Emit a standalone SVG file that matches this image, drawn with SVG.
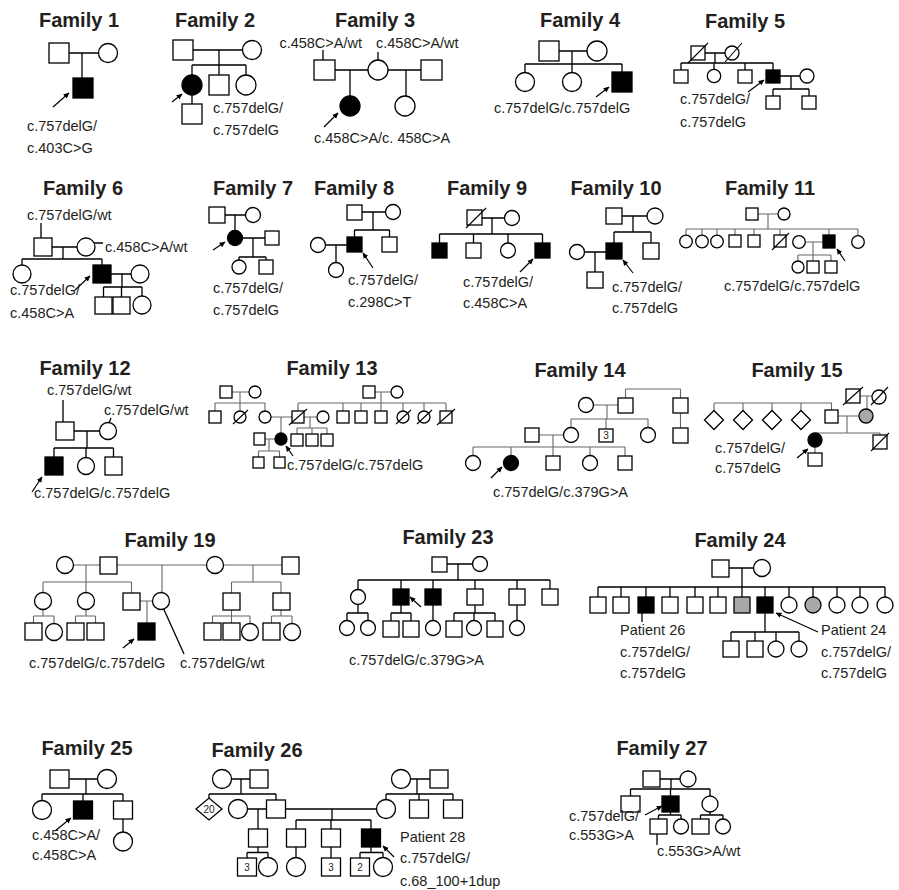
<svg xmlns="http://www.w3.org/2000/svg" width="899" height="890" viewBox="0 0 899 890">
<defs>
<style>
.o{fill:#fff;stroke:#000;stroke-width:1.3}
.k{fill:#000;stroke:#000;stroke-width:1.3}
.gr{fill:#a8a8a8;stroke:#000;stroke-width:1.3}
.c{fill:none;stroke:#000;stroke-width:1.3}
.cg{fill:none;stroke:#666;stroke-width:1.1}
.d{stroke:#000;stroke-width:1.1}
.a{stroke:#000;stroke-width:1.2}
.tt{font-family:"Liberation Sans",Arial,sans-serif;font-weight:bold;font-size:20px;fill:#231f20;text-anchor:middle}
.lb{font-family:"Liberation Sans",Arial,sans-serif;font-size:14.5px;fill:#231f20}
.sm{font-family:"Liberation Sans",Arial,sans-serif;font-size:10px;fill:#231f20;text-anchor:middle}
</style>
<marker id="ah" viewBox="0 0 10 10" refX="9" refY="5" markerWidth="6" markerHeight="6" markerUnits="userSpaceOnUse" orient="auto"><path d="M0,0.5 L10,5 L0,9.5 z" fill="#000"/></marker>
</defs>
<rect width="899" height="890" fill="#fff"/>

<g id="connectors">
<path class="c" d="M68,53H99M82,53V78"/>
<path class="c" d="M193,50H242M219,50V65M192,65H246M192,65V75M219,65V75M246,65V75M192,95V104"/>
<path class="c" d="M323,50V68M378,52V60M335,70H368M350,70V96M388,70H421M406,70V96"/>
<path class="c" d="M559,51H587M572,51V64M525,64H622M525,64V72.5M572,64V72.5M622,64V72"/>
<path class="c" d="M705,53H725M715,53V63M681,63H773M681,63V70M714,63V69.5M745,63V70M773,63V70M780,76H800M791,76V89M773,89H809M773,89V96M809,89V96"/>
<path class="c" d="M41,223V238M52,247H77M93,243H103M63,247V259M22,259H102M22,259V265M102,259V265M111,274H131M122,274V287M103.5,287H142M103.5,287V297M121.5,287V297M142,287V296"/>
<path class="c" d="M225,215H245.5M235,215V230.5M242.5,238H265M253,238V257M239,257H266M239,257V260M266,257V260"/>
<path class="c" d="M362,212H385.5M373,212V230M354.5,230H389.5M354.5,230V237M389.5,230V237M325.5,245H347M336,245V262.5"/>
<path class="c" d="M482,218H504.5M492,218V234M439.5,234H542.5M439.5,234V243M473.5,234V243M508,234V243M542.5,234V243"/>
<path class="c" d="M622,216H647M633,216V232M614,232H651M614,232V243M651,232V243M584.5,252H606M595,252V272"/>
<path class="cg" d="M758,214H778M768,214V229M686,229H858M686,229V235M702,229V235M717,229V235M735,229V235M754,229V235M780,229V235M829,229V235M858,229V235M805.5,242H823M813,242V255M798,255H831M798,255V261M813,255V261M831,255V261"/>
<path class="c" d="M63,400V422M111,418L109,423M74,431H99.5M87,431V448M54,448H113.5M54,448V457M86,448V457.5M113.5,448V457"/>
<path class="cg" d="M232,392H249M240,392V403M215,403H265M215,403V411M240,403V411M265,403V411M375,392H391M381,392V403M298,403H446M298,403V411M343,403V411M361,403V411M381,403V411M403,403V411M424,403V411M446,403V411M271,417H292M304,417H317M281,417V433M310,417V428M297,428H327M297,428V434M312,428V434M327,428V434M265,439H275M269,439V451M258.5,451H279.5M258.5,451V457M279.5,451V457"/>
<path class="cg" d="M625.5,389H680.5M625.5,389V398M680.5,389V398M593.5,405H618M607,405V419M571,419H648M571,419V427.5M606,419V429M648,419V427.5M680.5,413V428M539,435H563.5M553,435V447M473,447H625M473,447V455.5M511,447V455.5M553,447V456M590,447V455.5M625,447V456"/>
<path class="cg" d="M860,396H872M867,396V409M714,403H832M714,403V410.5M743,403V410.5M772,403V410.5M801,403V410.5M831.5,403V410M838,416H859M847,416V433M815,433H880M880,433V435M815,447V453"/>
<path class="cg" d="M73.5,565H100M86,565V582M117,565H206.5M162,565V592.5M223.5,565H282M253,565V582M43,582H131.5M43,582V592.5M86,582V592.5M131.5,582V593M231.5,582H281M231.5,582V593M281,582V593M140,601H152.5M147,601V623M43,609.5V616M33.5,616H54M33.5,616V623M54,616V623.5M86,609.5V616M75.5,616H95.5M75.5,616V623M95.5,616V623M231.5,610V616M212.5,616H250M212.5,616V623M231.5,616V623M250,616V623.5M281,610V616M271.5,616H292M271.5,616V623M292,616V623.5"/>
<path class="c" d="M161,603L184,654"/>
<path class="c" d="M447,564H472.5M458,564V580M358,580H550M358,580V589.5M401,580V589M433,580V589M475,580V589M517,580V589M550,580V589M358,604.5V613M347,613H368M347,613V620.5M368,613V620.5M401,605V613M391,613H411M391,613V621M411,613V621M433,605V620.5M475,605V613M454,613H495M454,613V621M474,613V620.5M495,613V621M517,605V620.5"/>
<path class="c" d="M729,568H753.5M742,568V587M598,587H885M598,587V597M621,587V597M646,587V597M670,587V597M695,587V597M718,587V597M742,587V597M765,587V597M789,587V597M813,587V597M837,587V597M860,587V597M885,587V597M642,613V622M765,613V632M731,632H799M731,632V641M755,632V641M776,632V641M799,632V641"/>
<path class="c" d="M69,779H97.5M86,779V794M42,794H123M42,794V800.5M83,794V801M123,794V801M123,819V832"/>
<path class="c" d="M231.5,779H250M241,779V794M209,794H276M209,794V798M276,794V800M247.5,809H266.5M258,809V829M410.5,779H430M417,779V794M386,794H453M386,794V799.5M419,794V800M453,794V800M332,809V820M296,820H371M296,820V829M331,820V829M371,820V829M258,847V852.5M247,852.5H268M247,852.5V858M268,852.5V857.5M296,847V857.5M331,847V858M371,847V852.5M360,852.5H383M360,852.5V858M383,852.5V857.5"/>
<path class="c" d="M285.5,809H376.5" stroke-width="2"/>
<path class="c" d="M660,779H680M671,779V789M630.5,789H710M630.5,789V796M670.5,789V796M710,789V796M670.5,812V815M658.5,815H681M658.5,815V819M681,815V819M710,812V815M700.5,815H723M700.5,815V819M723,815V819M657,823V845"/>
<line class="a" x1="53" y1="107" x2="69" y2="93" marker-end="url(#ah)"/>
<line class="a" x1="172" y1="102" x2="182" y2="94" marker-end="url(#ah)"/>
<line class="a" x1="324" y1="127" x2="338" y2="113" marker-end="url(#ah)"/>
<line class="a" x1="596" y1="97" x2="609" y2="87" marker-end="url(#ah)"/>
<line class="a" x1="748" y1="92" x2="764" y2="80" marker-end="url(#ah)"/>
<line class="a" x1="75" y1="290" x2="90" y2="276" marker-end="url(#ah)"/>
<line class="a" x1="213" y1="250" x2="225" y2="242" marker-end="url(#ah)"/>
<line class="a" x1="373" y1="268" x2="363" y2="253" marker-end="url(#ah)"/>
<line class="a" x1="520" y1="272" x2="533" y2="259" marker-end="url(#ah)"/>
<line class="a" x1="633" y1="273" x2="623" y2="260" marker-end="url(#ah)"/>
<line class="a" x1="845" y1="261" x2="837" y2="249" marker-end="url(#ah)" stroke="#555"/>
<line class="a" x1="32" y1="492" x2="42" y2="477" marker-end="url(#ah)"/>
<line class="a" x1="293" y1="456" x2="286" y2="446" marker-end="url(#ah)"/>
<line class="a" x1="491" y1="478" x2="502" y2="467" marker-end="url(#ah)"/>
<line class="a" x1="797" y1="458" x2="808" y2="449" marker-end="url(#ah)"/>
<line class="a" x1="123" y1="648" x2="134" y2="639" marker-end="url(#ah)"/>
<line class="a" x1="421" y1="607" x2="410" y2="597" marker-end="url(#ah)"/>
<line class="a" x1="818" y1="632" x2="776" y2="613" marker-end="url(#ah)"/>
<line class="a" x1="55" y1="831" x2="71" y2="818" marker-end="url(#ah)"/>
<line class="a" x1="394" y1="857" x2="383" y2="846" marker-end="url(#ah)"/>
<line class="a" x1="645" y1="815" x2="662" y2="806" marker-end="url(#ah)"/>
</g>

<g id="family1">
<text class="tt" x="79" y="27">Family 1</text>
<rect id="f1-father" class="o" x="49" y="43" width="20" height="20"/>
<circle id="f1-mother" class="o" cx="108" cy="53" r="9.5"/>
<rect id="f1-proband" class="k" x="73" y="78" width="20" height="20"/>
<text class="lb" x="27" y="131">c.757delG/</text>
<text class="lb" x="27" y="153">c.403C&gt;G</text>
</g>

<g id="family2">
<text class="tt" x="215" y="27">Family 2</text>
<rect id="f2-father" class="o" x="173" y="40" width="20" height="20"/>
<circle id="f2-mother" class="o" cx="252" cy="50" r="9.5"/>
<circle id="f2-proband" class="k" cx="192" cy="85" r="10"/>
<rect id="f2-brother" class="o" x="209" y="75" width="20" height="20"/>
<circle id="f2-sister" class="o" cx="246" cy="85" r="10"/>
<rect id="f2-son" class="o" x="182" y="104" width="20" height="20"/>
<text class="lb" x="213" y="113">c.757delG/</text>
<text class="lb" x="213" y="135">c.757delG</text>
</g>

<g id="family3">
<text class="tt" x="375" y="27">Family 3</text>
<text class="lb" x="362" y="48" text-anchor="end" font-size="14">c.458C&gt;A/wt</text>
<text class="lb" x="376" y="48" font-size="14">c.458C&gt;A/wt</text>
<rect id="f3-father" class="o" x="314" y="60" width="21" height="20"/>
<circle id="f3-mother" class="o" cx="378" cy="70" r="10"/>
<rect id="f3-husband2" class="o" x="421" y="60" width="21" height="20"/>
<circle id="f3-proband" class="k" cx="350" cy="106" r="10"/>
<circle id="f3-halfsister" class="o" cx="405" cy="106" r="10"/>
<text class="lb" x="314" y="143">c.458C&gt;A/c. 458C&gt;A</text>
</g>

<g id="family4">
<text class="tt" x="580" y="27">Family 4</text>
<rect id="f4-father" class="o" x="539" y="41" width="20" height="20"/>
<circle id="f4-mother" class="o" cx="597" cy="51" r="10"/>
<circle id="f4-d1" class="o" cx="525" cy="82" r="9.5"/>
<circle id="f4-d2" class="o" cx="572" cy="82" r="9.5"/>
<rect id="f4-proband" class="k" x="612" y="72" width="20" height="20"/>
<text class="lb" x="494" y="113">c.757delG/c.757delG</text>
</g>

<g id="family5">
<text class="tt" x="745" y="28">Family 5</text>
<rect id="f5-father" class="o" x="691" y="46" width="14" height="14"/>
<line class="d" x1="688" y1="63" x2="708" y2="43"/>
<circle id="f5-mother" class="o" cx="732" cy="53" r="7"/>
<line class="d" x1="725" y1="62" x2="742" y2="43"/>
<rect id="f5-c1" class="o" x="674" y="70" width="14" height="13"/>
<circle id="f5-c2" class="o" cx="714" cy="76" r="6.7"/>
<rect id="f5-c3" class="o" x="738" y="70" width="14" height="13"/>
<rect id="f5-proband" class="k" x="766" y="70" width="14" height="13"/>
<circle id="f5-wife" class="o" cx="807" cy="76" r="7"/>
<rect id="f5-g1" class="o" x="766" y="96" width="14" height="13"/>
<rect id="f5-g2" class="o" x="802" y="96" width="14" height="13"/>
<text class="lb" x="680" y="104">c.757delG/</text>
<text class="lb" x="680" y="127">c.757delG</text>
</g>

<g id="family6">
<text class="tt" x="83" y="195">Family 6</text>
<text class="lb" x="27" y="220">c.757delG/wt</text>
<text class="lb" x="105" y="252">c.458C&gt;A/wt</text>
<rect id="f6-father" class="o" x="34" y="238" width="18" height="18"/>
<circle id="f6-mother" class="o" cx="86" cy="247" r="9"/>
<circle id="f6-sister" class="o" cx="22" cy="274" r="9"/>
<rect id="f6-proband" class="k" x="93" y="265" width="18" height="18"/>
<circle id="f6-wife" class="o" cx="140" cy="274" r="9"/>
<rect id="f6-g1" class="o" x="95" y="297" width="17" height="17"/>
<rect id="f6-g2" class="o" x="113" y="297" width="17" height="17"/>
<circle id="f6-g3" class="o" cx="142" cy="305" r="9"/>
<text class="lb" x="10" y="295">c.757delG/</text>
<text class="lb" x="10" y="318">c.458C&gt;A</text>
</g>

<g id="family7">
<text class="tt" x="253" y="195">Family 7</text>
<rect id="f7-father" class="o" x="209" y="207" width="16" height="16"/>
<circle id="f7-mother" class="o" cx="253" cy="215" r="7.5"/>
<circle id="f7-proband" class="k" cx="235" cy="238" r="7.5"/>
<rect id="f7-husband" class="o" x="265" y="231" width="14" height="14"/>
<circle id="f7-g1" class="o" cx="239" cy="267" r="7"/>
<rect id="f7-g2" class="o" x="259" y="260" width="14" height="14"/>
<text class="lb" x="213" y="293">c.757delG/</text>
<text class="lb" x="213" y="315">c.757delG</text>
</g>

<g id="family8">
<text class="tt" x="354" y="195">Family 8</text>
<rect id="f8-father" class="o" x="347" y="205" width="15" height="15"/>
<circle id="f8-mother" class="o" cx="393" cy="212" r="7.5"/>
<rect id="f8-proband" class="k" x="347" y="237" width="15" height="15"/>
<rect id="f8-brother" class="o" x="382" y="237" width="15" height="15"/>
<circle id="f8-wife" class="o" cx="318" cy="245" r="7.5"/>
<circle id="f8-g1" class="o" cx="336" cy="270" r="7.5"/>
<text class="lb" x="348" y="285">c.757delG/</text>
<text class="lb" x="348" y="307">c.298C&gt;T</text>
</g>

<g id="family9">
<text class="tt" x="487" y="195">Family 9</text>
<rect id="f9-father" class="o" x="467" y="210" width="15" height="15"/>
<line class="d" x1="466" y1="228" x2="486" y2="208"/>
<circle id="f9-mother" class="o" cx="512" cy="218" r="7.5"/>
<rect id="f9-c1" class="k" x="432" y="243" width="15" height="15"/>
<rect id="f9-c2" class="o" x="466" y="243" width="15" height="15"/>
<circle id="f9-c3" class="o" cx="508" cy="250.5" r="7.5"/>
<rect id="f9-proband" class="k" x="535" y="243" width="15" height="15"/>
<text class="lb" x="463" y="287">c.757delG/</text>
<text class="lb" x="463" y="308">c.458C&gt;A</text>
</g>

<g id="family10">
<text class="tt" x="616" y="195">Family 10</text>
<rect id="f10-father" class="o" x="606" y="208" width="16" height="16"/>
<circle id="f10-mother" class="o" cx="655" cy="216" r="8"/>
<rect id="f10-proband" class="k" x="606" y="243" width="16" height="16"/>
<rect id="f10-brother" class="o" x="643" y="243" width="16" height="16"/>
<circle id="f10-wife" class="o" cx="577" cy="252" r="7.5"/>
<rect id="f10-son" class="o" x="587" y="272" width="16" height="16"/>
<text class="lb" x="612" y="292">c.757delG/</text>
<text class="lb" x="612" y="313">c.757delG</text>
</g>

<g id="family11">
<text class="tt" x="770" y="195">Family 11</text>
<rect id="f11-father" class="o" x="746" y="208" width="12" height="12"/>
<circle id="f11-mother" class="o" cx="784" cy="214" r="6"/>
<circle id="f11-c1" class="o" cx="686" cy="241.5" r="6.3"/>
<circle id="f11-c2" class="o" cx="702" cy="241.5" r="6.3"/>
<circle id="f11-c3" class="o" cx="717" cy="241.5" r="6.3"/>
<rect id="f11-c4" class="o" x="729" y="235" width="12" height="12"/>
<rect id="f11-c5" class="o" x="748" y="235" width="12" height="12"/>
<rect id="f11-c6" class="o" x="774" y="235" width="12" height="12"/>
<line class="d" x1="772" y1="250" x2="789" y2="233"/>
<circle id="f11-wife" class="o" cx="799" cy="242" r="6.3"/>
<rect id="f11-proband" class="k" x="823" y="235" width="12" height="13"/>
<circle id="f11-c8" class="o" cx="858" cy="242" r="6.3"/>
<circle id="f11-g1" class="o" cx="798" cy="267" r="6"/>
<rect id="f11-g2" class="o" x="807" y="261" width="12" height="12"/>
<rect id="f11-g3" class="o" x="825" y="261" width="12" height="12"/>
<text class="lb" x="724" y="291">c.757delG/c.757delG</text>
</g>

<g id="family12">
<text class="tt" x="85" y="375">Family 12</text>
<text class="lb" x="47" y="395">c.757delG/wt</text>
<text class="lb" x="104" y="415">c.757delG/wt</text>
<rect id="f12-father" class="o" x="56" y="422" width="18" height="18"/>
<circle id="f12-mother" class="o" cx="108" cy="431" r="8.5"/>
<rect id="f12-proband" class="k" x="45" y="457" width="18" height="18"/>
<circle id="f12-sister" class="o" cx="86" cy="466" r="8.5"/>
<rect id="f12-brother" class="o" x="105" y="457" width="17" height="18"/>
<text class="lb" x="34" y="498">c.757delG/c.757delG</text>
</g>

<g id="family13">
<text class="tt" x="332" y="375">Family 13</text>
<rect id="f13-gf1" class="o" x="220" y="386" width="12" height="12"/>
<circle id="f13-gm1" class="o" cx="255" cy="392" r="6"/>
<rect id="f13-gf2" class="o" x="363" y="386" width="12" height="12"/>
<circle id="f13-gm2" class="o" cx="397" cy="392" r="6"/>
<rect id="f13-a1" class="o" x="209" y="411" width="12" height="12"/>
<circle id="f13-a2" class="o" cx="240" cy="417" r="6"/>
<line class="d" x1="233" y1="424" x2="248" y2="410"/>
<circle id="f13-mother" class="o" cx="265" cy="417" r="6"/>
<rect id="f13-father" class="o" x="292" y="411" width="12" height="12"/>
<line class="d" x1="289" y1="425" x2="307" y2="409"/>
<circle id="f13-wife2" class="o" cx="323" cy="417" r="6"/>
<rect id="f13-u1" class="o" x="337" y="411" width="12" height="12"/>
<rect id="f13-u2" class="o" x="355" y="411" width="12" height="12"/>
<rect id="f13-u3" class="o" x="375" y="411" width="12" height="12"/>
<circle id="f13-u4" class="o" cx="403" cy="417" r="6"/>
<line class="d" x1="396" y1="424" x2="411" y2="410"/>
<circle id="f13-u5" class="o" cx="424" cy="417" r="6"/>
<line class="d" x1="417" y1="424" x2="432" y2="410"/>
<rect id="f13-u6" class="o" x="440" y="411" width="12" height="12"/>
<line class="d" x1="437" y1="425" x2="455" y2="409"/>
<circle id="f13-proband" class="k" cx="281" cy="439" r="6"/>
<rect id="f13-husband" class="o" x="254" y="433" width="11" height="12"/>
<rect id="f13-h1" class="o" x="291" y="434" width="12" height="12"/>
<rect id="f13-h2" class="o" x="306" y="434" width="12" height="12"/>
<rect id="f13-h3" class="o" x="321" y="434" width="12" height="12"/>
<rect id="f13-s1" class="o" x="253" y="457" width="11" height="11"/>
<rect id="f13-s2" class="o" x="274" y="457" width="11" height="11"/>
<text class="lb" x="287" y="470">c.757delG/c.757delG</text>
</g>

<g id="family14">
<text class="tt" x="580" y="377">Family 14</text>
<circle id="f14-gm" class="o" cx="586" cy="405" r="7.5"/>
<rect id="f14-gf" class="o" x="618" y="398" width="15" height="15"/>
<rect id="f14-ggu" class="o" x="673" y="398" width="15" height="15"/>
<rect id="f14-ggu2" class="o" x="673" y="428" width="15" height="15"/>
<rect id="f14-father" class="o" x="525" y="428" width="14" height="14"/>
<circle id="f14-mother" class="o" cx="571" cy="435" r="7.5"/>
<rect id="f14-u3" class="o" x="599" y="429" width="14" height="13"/>
<text class="sm" x="606" y="439">3</text>
<circle id="f14-aunt" class="o" cx="648" cy="435" r="7.5"/>
<circle id="f14-c1" class="o" cx="473" cy="463" r="7.5"/>
<circle id="f14-proband" class="k" cx="511" cy="463" r="7.5"/>
<rect id="f14-c3" class="o" x="546" y="456" width="14" height="14"/>
<circle id="f14-c4" class="o" cx="590" cy="463" r="7.5"/>
<rect id="f14-c5" class="o" x="618" y="456" width="14" height="14"/>
<text class="lb" x="493" y="497" font-size="16">c.757delG/c.379G&gt;A</text>
</g>

<g id="family15">
<text class="tt" x="797" y="377">Family 15</text>
<rect id="f15-gf" class="o" x="846" y="389" width="14" height="14"/>
<line class="d" x1="843" y1="405" x2="863" y2="387"/>
<circle id="f15-gm" class="o" cx="879" cy="397" r="7"/>
<line class="d" x1="871" y1="405" x2="888" y2="387"/>
<polygon id="f15-s1" class="o" points="704.5,420 714,410.5 723.5,420 714,429.5"/>
<polygon id="f15-s2" class="o" points="733.5,420 743,410.5 752.5,420 743,429.5"/>
<polygon id="f15-s3" class="o" points="762.5,420 772,410.5 781.5,420 772,429.5"/>
<polygon id="f15-s4" class="o" points="791.5,420 801,410.5 810.5,420 801,429.5"/>
<rect id="f15-father" class="o" x="825" y="410" width="13" height="13"/>
<circle id="f15-mother" class="gr" cx="866" cy="416" r="7"/>
<circle id="f15-proband" class="k" cx="815" cy="440" r="7"/>
<rect id="f15-brother" class="o" x="873" y="435" width="14" height="14"/>
<line class="d" x1="871" y1="451" x2="889" y2="433"/>
<rect id="f15-son" class="o" x="808" y="453" width="14" height="13"/>
<text class="lb" x="715" y="453">c.757delG/</text>
<text class="lb" x="715" y="473">c.757delG</text>
</g>

<g id="family19">
<text class="tt" x="170" y="547">Family 19</text>
<circle id="f19-gm1" class="o" cx="65" cy="565" r="8.5"/>
<rect id="f19-gf1" class="o" x="100" y="557" width="17" height="17"/>
<circle id="f19-gm2" class="o" cx="215" cy="565" r="8.5"/>
<rect id="f19-gf2" class="o" x="282" y="557" width="17" height="17"/>
<circle id="f19-a1" class="o" cx="43" cy="601" r="8.5"/>
<circle id="f19-a2" class="o" cx="86" cy="601" r="8.5"/>
<rect id="f19-father" class="o" x="123" y="593" width="17" height="17"/>
<circle id="f19-mother" class="o" cx="161" cy="601" r="8.5"/>
<rect id="f19-b1" class="o" x="223" y="593" width="17" height="17"/>
<rect id="f19-b2" class="o" x="273" y="593" width="17" height="17"/>
<rect id="f19-proband" class="k" x="138" y="623" width="17" height="17"/>
<rect id="f19-k1" class="o" x="25" y="623" width="17" height="17"/>
<circle id="f19-k2" class="o" cx="54" cy="632" r="8.5"/>
<rect id="f19-k3" class="o" x="67" y="623" width="17" height="17"/>
<rect id="f19-k4" class="o" x="87" y="623" width="17" height="17"/>
<rect id="f19-k5" class="o" x="204" y="623" width="17" height="17"/>
<rect id="f19-k6" class="o" x="223" y="623" width="17" height="17"/>
<circle id="f19-k7" class="o" cx="250" cy="632" r="8.5"/>
<rect id="f19-k8" class="o" x="263" y="623" width="17" height="17"/>
<circle id="f19-k9" class="o" cx="292" cy="632" r="8.5"/>
<text class="lb" x="29" y="668" font-size="14">c.757delG/c.757delG</text>
<text class="lb" x="180" y="668">c.757delG/wt</text>
</g>

<g id="family23">
<text class="tt" x="448" y="544">Family 23</text>
<rect id="f23-father" class="o" x="432" y="557" width="15" height="15"/>
<circle id="f23-mother" class="o" cx="480" cy="564" r="7.5"/>
<circle id="f23-c1" class="o" cx="358" cy="597" r="7.5"/>
<rect id="f23-proband" class="k" x="393" y="589" width="16" height="16"/>
<rect id="f23-c3" class="k" x="425" y="589" width="16" height="16"/>
<rect id="f23-c4" class="o" x="467" y="589" width="16" height="16"/>
<rect id="f23-c5" class="o" x="509" y="589" width="16" height="16"/>
<rect id="f23-c6" class="o" x="542" y="589" width="16" height="16"/>
<circle id="f23-g1" class="o" cx="347" cy="628" r="7.5"/>
<circle id="f23-g2" class="o" cx="368" cy="628" r="7.5"/>
<rect id="f23-g3" class="o" x="383" y="621" width="16" height="16"/>
<rect id="f23-g4" class="o" x="403" y="621" width="16" height="16"/>
<circle id="f23-g5" class="o" cx="433" cy="628" r="7.5"/>
<rect id="f23-g6" class="o" x="446" y="621" width="16" height="16"/>
<circle id="f23-g7" class="o" cx="474" cy="628" r="7.5"/>
<rect id="f23-g8" class="o" x="487" y="621" width="16" height="16"/>
<circle id="f23-g9" class="o" cx="517" cy="628" r="7.5"/>
<text class="lb" x="349" y="665">c.757delG/c.379G&gt;A</text>
</g>

<g id="family24">
<text class="tt" x="740" y="547">Family 24</text>
<rect id="f24-father" class="o" x="712" y="560" width="17" height="17"/>
<circle id="f24-mother" class="o" cx="762" cy="568" r="8.5"/>
<rect id="f24-c1" class="o" x="590" y="597" width="16" height="16"/>
<rect id="f24-c2" class="o" x="613" y="597" width="16" height="16"/>
<rect id="f24-p26" class="k" x="638" y="597" width="16" height="16"/>
<rect id="f24-c4" class="o" x="662" y="597" width="16" height="16"/>
<rect id="f24-c5" class="o" x="687" y="597" width="16" height="16"/>
<rect id="f24-c6" class="o" x="710" y="597" width="16" height="16"/>
<rect id="f24-c7" class="gr" x="734" y="597" width="16" height="16"/>
<rect id="f24-p24" class="k" x="757" y="597" width="16" height="16"/>
<circle id="f24-c9" class="o" cx="789" cy="605" r="8"/>
<circle id="f24-c10" class="gr" cx="813" cy="605" r="8"/>
<circle id="f24-c11" class="o" cx="837" cy="605" r="8"/>
<circle id="f24-c12" class="o" cx="860" cy="605" r="8"/>
<circle id="f24-c13" class="o" cx="885" cy="605" r="8"/>
<rect id="f24-g1" class="o" x="723" y="641" width="16" height="16"/>
<rect id="f24-g2" class="o" x="747" y="641" width="16" height="16"/>
<circle id="f24-g3" class="o" cx="776" cy="649" r="8"/>
<circle id="f24-g4" class="o" cx="799" cy="649" r="8"/>
<text class="lb" x="620" y="635">Patient 26</text>
<text class="lb" x="620" y="657">c.757delG/</text>
<text class="lb" x="620" y="678">c.757delG</text>
<text class="lb" x="821" y="635">Patient 24</text>
<text class="lb" x="821" y="657">c.757delG/</text>
<text class="lb" x="821" y="678">c.757delG</text>
</g>

<g id="family25">
<text class="tt" x="87" y="755" font-size="21">Family 25</text>
<rect id="f25-father" class="o" x="50" y="770" width="19" height="18"/>
<circle id="f25-mother" class="o" cx="107" cy="779" r="9.5"/>
<circle id="f25-c1" class="o" cx="42" cy="810" r="9.5"/>
<rect id="f25-proband" class="k" x="73.5" y="801" width="19" height="18"/>
<rect id="f25-c3" class="o" x="113.5" y="801" width="19" height="18"/>
<circle id="f25-g1" class="o" cx="123" cy="841.5" r="9.5"/>
<text class="lb" x="32" y="840">c.458C&gt;A/</text>
<text class="lb" x="32" y="860">c.458C&gt;A</text>
</g>

<g id="family26">
<text class="tt" x="257" y="757" font-size="21">Family 26</text>
<circle id="f26-gm1" class="o" cx="222" cy="779" r="9.5"/>
<rect id="f26-gf1" class="o" x="250" y="770" width="18" height="18"/>
<circle id="f26-gm2" class="o" cx="401" cy="779" r="9.5"/>
<rect id="f26-gf2" class="o" x="430" y="770" width="18" height="18"/>
<polygon id="f26-sibs20" class="o" points="196,809 209,798 222,809 209,820"/>
<text class="sm" x="209" y="813" font-size="11">20</text>
<circle id="f26-wife1" class="o" cx="238" cy="809" r="9.5"/>
<rect id="f26-father" class="o" x="266.5" y="800" width="19" height="18"/>
<circle id="f26-mother" class="o" cx="386" cy="809" r="9.5"/>
<rect id="f26-u1" class="o" x="409.5" y="800" width="19" height="18"/>
<rect id="f26-u2" class="o" x="443.5" y="800" width="19" height="18"/>
<rect id="f26-half" class="o" x="248.5" y="829" width="19" height="18"/>
<rect id="f26-b1" class="o" x="286.5" y="829" width="19" height="18"/>
<rect id="f26-b2" class="o" x="321.5" y="829" width="19" height="18"/>
<rect id="f26-proband" class="k" x="361.5" y="829" width="19" height="18"/>
<rect id="f26-k1" class="o" x="237.5" y="858" width="19" height="18"/>
<text class="sm" x="247" y="871" font-size="11">3</text>
<circle id="f26-k2" class="o" cx="268" cy="867" r="9.5"/>
<circle id="f26-k3" class="o" cx="296" cy="867" r="9.5"/>
<rect id="f26-k4" class="o" x="321.5" y="858" width="19" height="18"/>
<text class="sm" x="331" y="871" font-size="11">3</text>
<rect id="f26-k5" class="o" x="350.5" y="858" width="19" height="18"/>
<text class="sm" x="360" y="871" font-size="11">2</text>
<circle id="f26-k6" class="o" cx="383" cy="867" r="9.5"/>
<text class="lb" x="400" y="842" font-size="16">Patient 28</text>
<text class="lb" x="400" y="863" font-size="16">c.757delG/</text>
<text class="lb" x="400" y="886" font-size="16">c.68_100+1dup</text>
</g>

<g id="family27">
<text class="tt" x="662" y="755" font-size="21">Family 27</text>
<rect id="f27-father" class="o" x="643" y="771" width="17" height="16"/>
<circle id="f27-mother" class="o" cx="688" cy="779" r="8"/>
<rect id="f27-c1" class="o" x="621" y="796" width="19" height="16"/>
<rect id="f27-proband" class="k" x="662" y="796" width="17" height="16"/>
<circle id="f27-c3" class="o" cx="710" cy="804" r="8"/>
<rect id="f27-g1" class="o" x="650" y="819" width="17" height="15"/>
<circle id="f27-g2" class="o" cx="681" cy="826.5" r="7.5"/>
<rect id="f27-g3" class="o" x="692" y="819" width="17" height="15"/>
<circle id="f27-g4" class="o" cx="723" cy="826.5" r="7.5"/>
<text class="lb" x="569" y="821">c.757delG/</text>
<text class="lb" x="569" y="840">c.553G&gt;A</text>
<text class="lb" x="657" y="856" font-size="16">c.553G&gt;A/wt</text>
</g>
</svg>
